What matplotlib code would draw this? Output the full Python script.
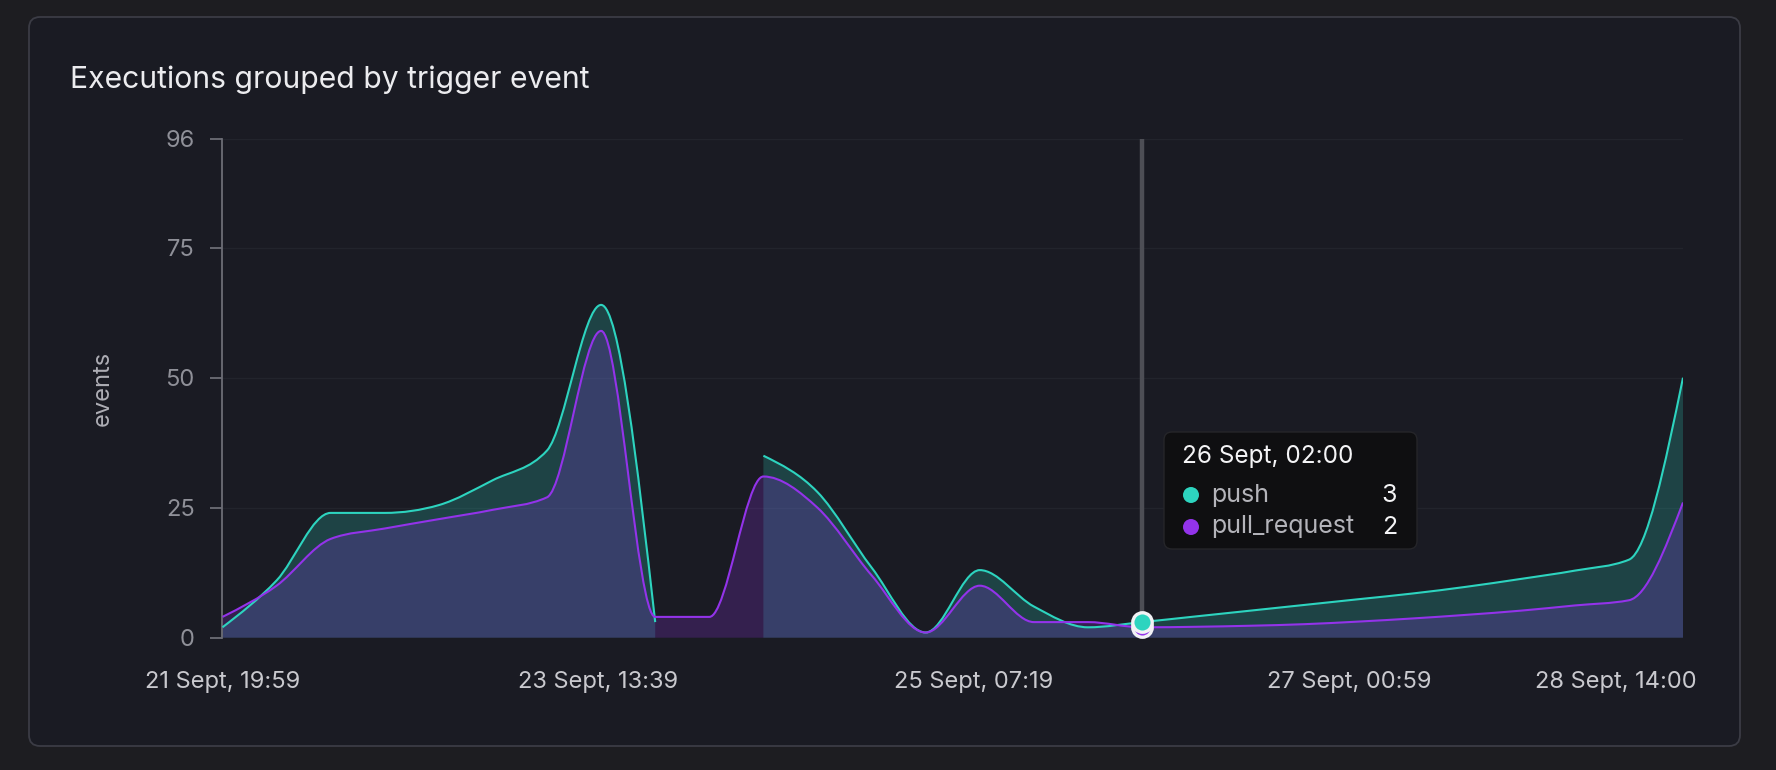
import numpy as np
import matplotlib
matplotlib.use('Agg')
import matplotlib.pyplot as plt
from matplotlib.path import Path
from matplotlib.patches import PathPatch, FancyBboxPatch, Circle
from matplotlib.transforms import IdentityTransform

plt.rcParams['font.family'] = ['Inter', 'DejaVu Sans']

# one sample every 6 hours, starting 21 Sept 20:00
hours = [i * 6 for i in range(28)]
push = [2, 11, 24, 24, 25.5, 30.3, 36, 64, 3, None, 35, 28, 13.5, 1, 13, 6, 2, 3,
        4.1, 5.2, 6.3, 7.4, 8.5, 9.8, 11.3, 12.9, 15, 50]
pull_request = [4, 10, 19, 21, 22.8, 24.6, 27, 59, 4, 4, 31, 25, 12, 1, 10, 3, 3, 2,
                2.1, 2.3, 2.6, 3.1, 3.7, 4.4, 5.2, 6.2, 7.2, 26]

tick_hours = [-1 / 60, 41.65, 83.32, 124.98]
tick_labels = ['21 Sept, 19:59', '23 Sept, 13:39', '25 Sept, 07:19', '27 Sept, 00:59']
end_label = '28 Sept, 14:00'
y_ticks = [0, 25, 50, 75, 96]

hover_idx = 17
hover_label = '26 Sept, 02:00'

TEAL = '#2dd4bf'
PURPLE = '#9333ea'
BG = '#1d1d21'
CARD = '#1a1b23'

W, H = 1776, 770
fig = plt.figure(figsize=(W / 100, H / 100), dpi=100, facecolor=BG)

card = FancyBboxPatch((29, H - 746), 1711, 729, boxstyle='round,pad=0,rounding_size=11',
                      transform=IdentityTransform(), facecolor=CARD, edgecolor='#3b3c45',
                      lw=1.3, zorder=-10)
fig.patches.append(card)

fig.text(70 / W, 1 - 80 / H, 'Executions grouped by trigger event', color='#ececef',
         fontsize=21.7, va='center', ha='left')

ax = fig.add_axes([222.3 / W, 1 - 637.7 / H, (1683 - 222.3) / W, (637.7 - 138.5) / H])
ax.set_facecolor('none')
ax.set_xlim(-1 / 60, 162)
ax.set_ylim(0, 96)


def segments(xs, ys):
    seg = []
    for x, y in zip(xs, ys):
        if y is None:
            if seg:
                yield seg
            seg = []
        else:
            seg.append((x, y))
    if seg:
        yield seg


def monotone_path(pts):
    # monotone-x cubic curve (same rule as d3.curveMonotoneX)
    x = np.array([p[0] for p in pts], dtype=float)
    y = np.array([p[1] for p in pts], dtype=float)
    n = len(x)
    verts = [(x[0], y[0])]
    codes = [Path.MOVETO]
    if n < 3:
        for i in range(1, n):
            verts.append((x[i], y[i]))
            codes.append(Path.LINETO)
        return verts, codes
    h = np.diff(x)
    s = np.diff(y) / h
    t = np.zeros(n)
    for i in range(1, n - 1):
        p = (s[i - 1] * h[i] + s[i] * h[i - 1]) / (h[i - 1] + h[i])
        t[i] = (np.sign(s[i - 1]) + np.sign(s[i])) * min(abs(s[i - 1]), abs(s[i]), 0.5 * abs(p))
    t[0] = (3 * s[0] - t[1]) / 2
    t[-1] = (3 * s[-1] - t[-2]) / 2
    for i in range(n - 1):
        d = h[i] / 3
        verts += [(x[i] + d, y[i] + d * t[i]), (x[i + 1] - d, y[i + 1] - d * t[i + 1]),
                  (x[i + 1], y[i + 1])]
        codes += [Path.CURVE4] * 3
    return verts, codes


def draw_series(ys, color, alpha):
    for seg in segments(hours, ys):
        verts, codes = monotone_path(seg)
        fill_v = verts + [(verts[-1][0], 0), (verts[0][0], 0), verts[0]]
        fill_c = codes + [Path.LINETO, Path.LINETO, Path.CLOSEPOLY]
        ax.add_patch(PathPatch(Path(fill_v, fill_c), facecolor=color, alpha=alpha, lw=0,
                               zorder=2))
        ax.add_patch(PathPatch(Path(verts, codes), facecolor='none', edgecolor=color,
                               lw=1.5, zorder=4))


draw_series(push, TEAL, 0.22)
draw_series(pull_request, PURPLE, 0.22)

for v in y_ticks[1:]:
    ax.axhline(v, color='#22242c', lw=1, zorder=1)

# hover cursor
hx = hours[hover_idx]
ax.plot([hx, hx], [0, 96], color='#4d4e55', lw=3.2, zorder=3, solid_capstyle='butt')
ax.plot(hx, pull_request[hover_idx], 'o', ms=14, mfc=PURPLE, mec='#f2f2f5', mew=2.4, zorder=6,
        clip_on=False)
ax.plot(hx, push[hover_idx], 'o', ms=14, mfc=TEAL, mec='#f2f2f5', mew=2.4, zorder=7,
        clip_on=False)

for s in ['top', 'right', 'bottom']:
    ax.spines[s].set_visible(False)
ax.spines['left'].set_color('#6c6d75')
ax.spines['left'].set_linewidth(1.3)
ax.set_yticks(y_ticks)
ax.tick_params(axis='y', length=9, width=1.3, color='#6c6d75', labelcolor='#8f9098',
               labelsize=17, pad=11)
ax.set_xticks(tick_hours)
ax.set_xticklabels(tick_labels)
ax.tick_params(axis='x', length=0, labelcolor='#c9c9ce', labelsize=17, pad=24)
ax.annotate(end_label, xy=(hours[-1], 0), xycoords=('data', 'axes fraction'),
            xytext=(10, -24), textcoords='offset points', ha='right', va='top',
            color='#c9c9ce', fontsize=17)
ax.set_ylabel('events', color='#aeaeb5', fontsize=17, va='center')
ax.yaxis.set_label_coords((103 - 222.3) / (1683 - 222.3), 0.5)

# tooltip
tip = FancyBboxPatch((1164, H - 549), 253, 117, boxstyle='round,pad=0,rounding_size=8',
                     transform=IdentityTransform(), facecolor='#0f0f11', edgecolor='#26262a',
                     lw=1, alpha=0.97, zorder=10)
fig.patches.append(tip)
fig.text(1182 / W, 1 - 456 / H, hover_label, color='#f4f4f6', fontsize=17.5, va='center',
         ha='left', zorder=11)
rows = [('push', push[hover_idx], TEAL, 495), ('pull_request', pull_request[hover_idx], PURPLE, 527)]
for name, val, col, yy in rows:
    fig.patches.append(Circle((1191, H - yy), 8, transform=IdentityTransform(), facecolor=col,
                              lw=0, zorder=11))
    fig.text(1211 / W, 1 - yy / H, name, color='#b4b4ba', fontsize=18, va='center', ha='left',
             zorder=11)
    fig.text(1397 / W, 1 - yy / H, '%g' % val, color='#f4f4f6', fontsize=18, va='center',
             ha='right', zorder=11)

fig.savefig('out.png', dpi=100, facecolor=BG)
